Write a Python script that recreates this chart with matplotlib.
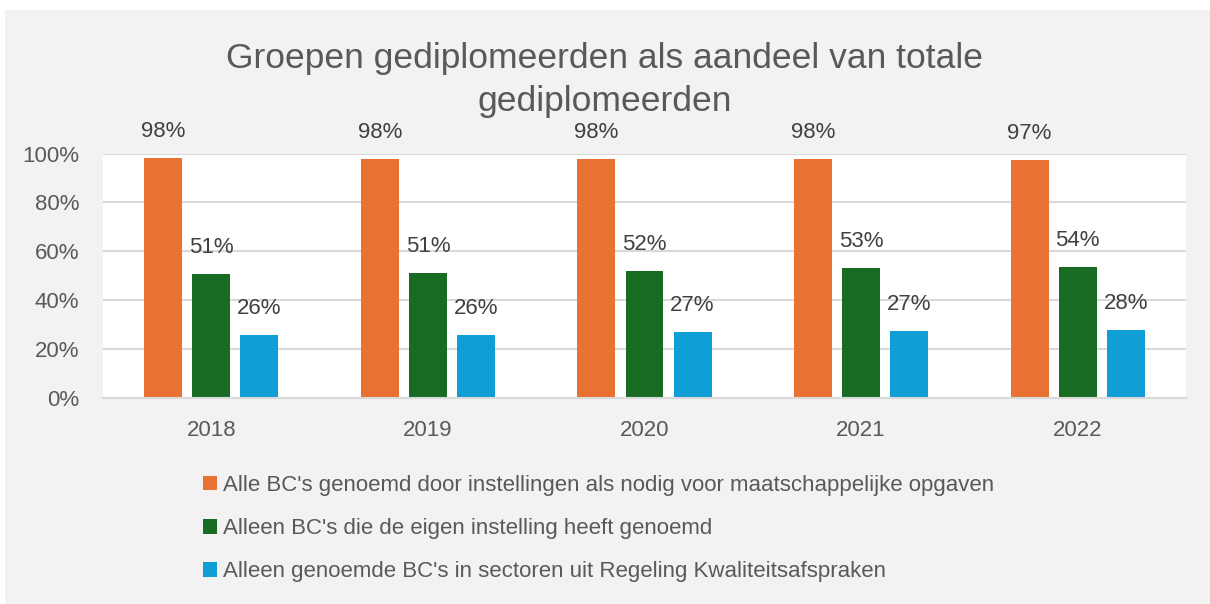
import matplotlib
matplotlib.use("Agg")
import matplotlib.pyplot as plt
from matplotlib.patches import Rectangle, Patch
import numpy as np

# ---- data ----
years = ["2018", "2019", "2020", "2021", "2022"]
alle_bc = [0.981, 0.978, 0.976, 0.976, 0.974]
eigen_bc = [0.507, 0.513, 0.520, 0.531, 0.537]
sector_bc = [0.257, 0.259, 0.270, 0.273, 0.280]
labels = [
    "Alle BC's genoemd door instellingen als nodig voor maatschappelijke opgaven",
    "Alleen BC's die de eigen instelling heeft genoemd",
    "Alleen genoemde BC's in sectoren uit Regeling Kwaliteitsafspraken",
]
colors = ["#e97132", "#196b24", "#0f9ed5"]
title = "Groepen gediplomeerden als aandeel van totale\ngediplomeerden"

font = "Liberation Sans"

W, H = 1210, 604
fig = plt.figure(figsize=(W / 100, H / 100), dpi=100)
fig.patch.set_facecolor("white")
fig.patches.append(Rectangle((5 / W, 0), 1 - 5 / W, 1 - 10 / H, transform=fig.transFigure,
                             facecolor="#f2f2f2", edgecolor="none", zorder=-10))

ax = fig.add_axes([103 / W, (H - 398) / H, (1186 - 103) / W, (398 - 153.5) / H])
ax.set_facecolor("white")

x = np.arange(len(years))
w = 0.175
step = 0.222
for i, (vals, c) in enumerate(zip([alle_bc, eigen_bc, sector_bc], colors)):
    xs = x + (i - 1) * step
    ax.bar(xs, vals, w, color=c, zorder=3)
    for xi, v in zip(xs, vals):
        ax.annotate(f"{v:.0%}", (xi, v), xytext=(0, 19), textcoords="offset points",
                    ha="center", va="center", fontsize=16, color="#404040", family=font)

ax.set_xlim(-0.5, len(years) - 0.5)
ax.set_ylim(0, 1.0)
ticks = np.arange(0, 1.01, 0.2)
ax.set_yticks(ticks)
ax.set_yticklabels([f"{int(round(t * 100))}%" for t in ticks])
ax.set_xticks(x)
ax.set_xticklabels(years)
ax.tick_params(axis="both", length=0, labelsize=16, labelcolor="#595959")
ax.tick_params(axis="y", pad=17)
ax.tick_params(axis="x", pad=16)
for lab in ax.get_xticklabels() + ax.get_yticklabels():
    lab.set_family(font)
ax.grid(axis="y", color="#d9d9d9", lw=1.5, zorder=0)
for s in ["top", "right", "left"]:
    ax.spines[s].set_visible(False)
ax.spines["bottom"].set_color("#d9d9d9")
ax.spines["bottom"].set_linewidth(1.5)
ax.spines["bottom"].set_zorder(4)

fig.text(0.5, 1 - 80 / H, title, ha="center", va="center", fontsize=25.5,
         color="#595959", family=font, linespacing=1.4)

handles = [Patch(facecolor=c, edgecolor="none") for c in colors]
fig.legend(handles, labels, loc="upper left", bbox_to_anchor=(183 / W, 1 - 455 / H),
           frameon=False, labelcolor="#595959", handlelength=0.62,
           handleheight=0.62, handletextpad=0.3, labelspacing=1.0,
           prop={"family": font, "size": 16})

fig.savefig("out.png", dpi=100)
